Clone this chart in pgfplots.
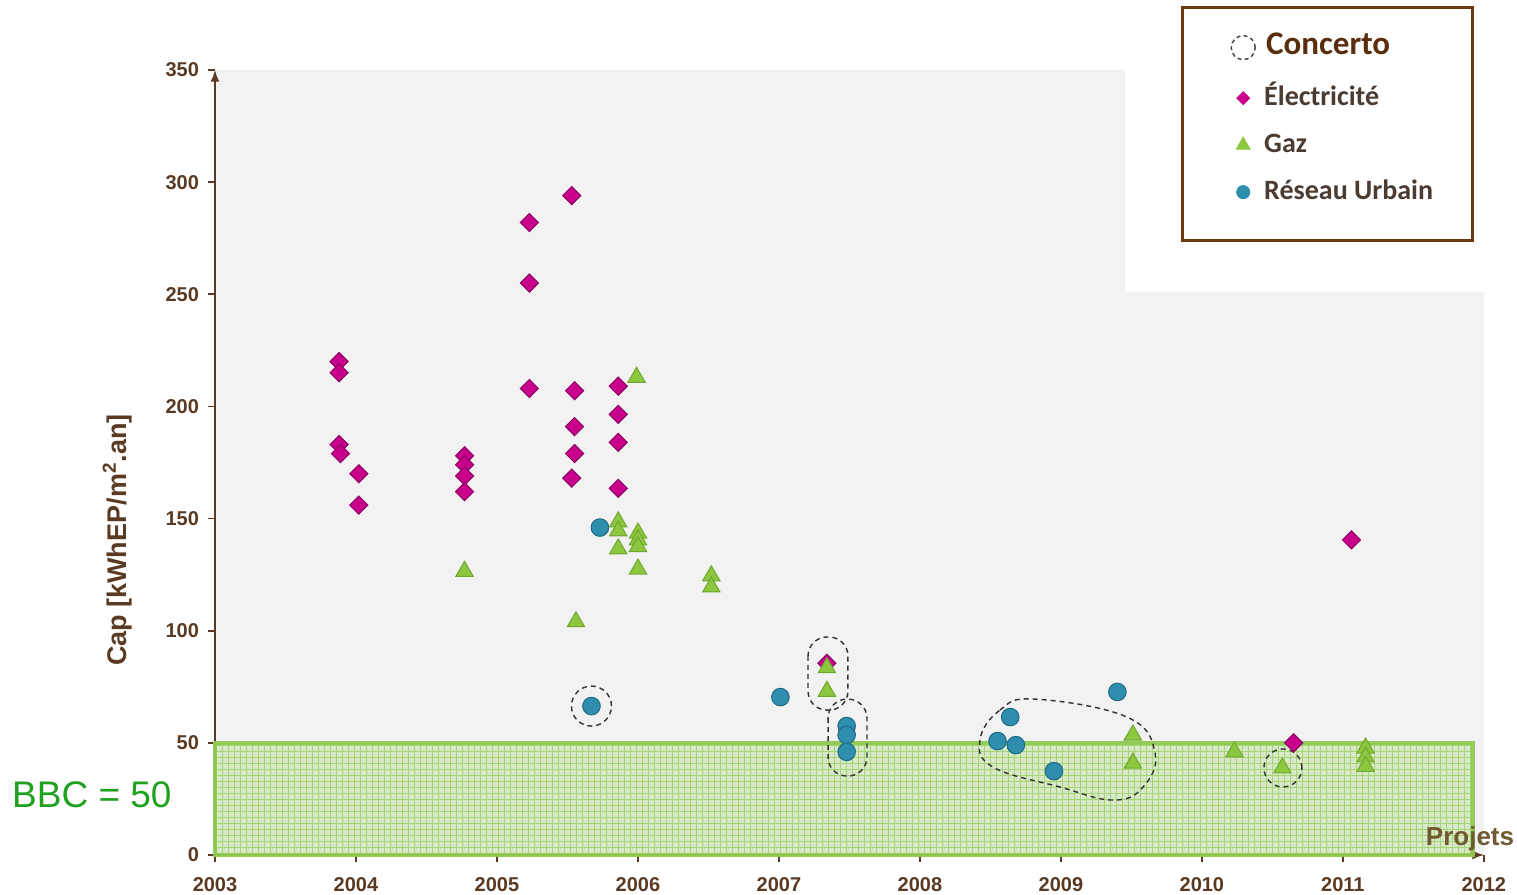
\documentclass[border=0pt]{standalone}
\usepackage{fontspec}
\setmainfont{Liberation Sans}
\newfontfamily\carlito{Carlito}
\usepackage{pgfplots}
\pgfplotsset{compat=1.18}
\usetikzlibrary{patterns}
\definecolor{brn}{HTML}{5A3A22}
\definecolor{proj}{HTML}{6F5A32}
\definecolor{elec}{HTML}{C8008C}
\definecolor{elecd}{HTML}{8A0062}
\definecolor{gaz}{HTML}{8DC63F}
\definecolor{gazd}{HTML}{6FA82E}
\definecolor{ru}{HTML}{2F8DAE}
\definecolor{rud}{HTML}{1F6B86}
\definecolor{bg}{HTML}{F2F2F2}
\definecolor{bbcline}{HTML}{8FCB52}
\definecolor{bbctext}{HTML}{1FA01F}
\definecolor{legbrn}{HTML}{6B3A0C}
\definecolor{legtxt}{HTML}{4B3B30}
\definecolor{conc}{HTML}{5A2D0C}
\begin{document}
\begin{tikzpicture}
\path[use as bounding box] (0,0) rectangle (758.5pt,447.5pt);
\begin{axis}[
  at={(107.5pt,20pt)}, anchor=south west,
  scale only axis, width=634.5pt, height=392.5pt,
  xmin=2003, xmax=2012, ymin=0, ymax=350,
  axis lines=left,
  axis line style={brn, line width=1pt, -latex},
  axis background/.style={fill=bg},
  clip=false,
  xtick={2003,...,2012}, ytick={0,50,...,350},
  tick align=outside, major tick length=3.5pt,
  tick style={brn, line width=0.8pt},
  /pgf/number format/assume math mode=true,
  /pgf/number format/1000 sep={},
  tick label style={font=\bfseries\fontsize{10}{11}\selectfont, text=brn},
  xticklabel style={yshift=-4pt},
  yticklabel style={xshift=-1pt},
  xlabel={Projets},
  ylabel={Cap [kWhEP/m\textsuperscript{2}.an]},
  every axis x label/.style={at={(axis description cs:0.989,0.021)}, anchor=center, font=\bfseries\fontsize{13}{15}\selectfont, text=proj},
  every axis y label/.style={at={(axis description cs:-0.077,0.401)}, rotate=90, anchor=center, font=\bfseries\fontsize{13.5}{15}\selectfont, text=brn},
  legend style={at={(0.8005,1.050)}, anchor=north west, draw=none, fill=none, inner sep=0pt, row sep=10.5pt, column sep=4.5pt,
     nodes={inner sep=0pt, text height=10pt, text depth=3pt},
     font=\carlito\bfseries\fontsize{14}{16}\selectfont, text=legtxt},
  legend cell align=left,
]
% white region behind the legend
\fill[white] (rel axis cs:0.7171,0.7172) rectangle (rel axis cs:1.01,1.0);
\draw[legbrn, line width=1.5pt, fill=white] (rel axis cs:0.7628,1.079) rectangle (rel axis cs:0.9913,0.7834);

% Electricite
\addplot[only marks, forget plot, mark=square*, mark size=3.2pt,
  mark options={rotate=45, fill=elec, draw=elecd, line width=0.5pt}] coordinates {
(2003.88,220) (2003.88,215) (2003.88,183) (2003.89,179) (2004.02,170) (2004.02,156)
(2004.77,178) (2004.77,174) (2004.77,169) (2004.77,162)
(2005.23,282) (2005.23,255) (2005.23,208)
(2005.53,294) (2005.55,207) (2005.55,191) (2005.55,179) (2005.53,168)
(2005.86,209) (2005.86,196.5) (2005.86,184) (2005.86,163.5)
(2007.34,85.5) (2010.65,50) (2011.06,140.5)
};
% Reseau urbain
\addplot[only marks, forget plot, mark=*, mark size=4.4pt,
  mark options={fill=ru, draw=rud, line width=0.5pt}] coordinates {
(2005.73,146) (2005.67,66.4) (2007.01,70.4)
(2007.48,57.5) (2007.48,53.5) (2007.48,46)
(2008.64,61.5) (2008.55,50.8) (2008.68,49) (2008.95,37.4) (2009.40,72.7)
};
% Gaz
\addplot[only marks, forget plot, mark=triangle*, mark size=5pt,
  mark options={fill=gaz, draw=gazd, line width=0.5pt}] coordinates {
(2004.77,126.5) (2005.56,104) (2005.99,213)
(2005.86,148.5) (2005.86,144.5) (2005.86,136.5)
(2006.0,143.5) (2006.0,140.5) (2006.0,137.5) (2006.0,127.5)
(2006.52,124.5) (2006.52,119.5)
(2007.34,83.5) (2007.34,73)
(2009.51,53.5) (2009.51,41) (2010.23,46) (2010.57,38.8)
(2011.16,47.7) (2011.16,43.7) (2011.16,39.5)
};

% BBC zone (drawn over the points, translucent)
\fill[bbcline, fill opacity=0.25] (axis cs:2003,0) rectangle (axis cs:2011.92,50);
\fill[pattern=grid, pattern color=bbcline!80, fill opacity=0.45] (axis cs:2003,0) rectangle (axis cs:2011.92,50);
\draw[bbcline, line width=2pt, draw opacity=0.95] (axis cs:2003,0) rectangle (axis cs:2011.92,50);

% Concerto dashed outlines
\begin{scope}[black!80, line width=0.7pt, dash pattern=on 2.5pt off 2pt]
\draw (axis cs:2005.67,66.4) circle[radius=10pt];
\draw[rounded corners=9.5pt] (axis cs:2007.206,97.2) rectangle (axis cs:2007.489,64.6);
\draw[rounded corners=9.5pt] (axis cs:2007.348,69.5) rectangle (axis cs:2007.624,35.2);
\draw plot[smooth cycle, tension=0.7] coordinates {
 (2008.426,51.3) (2008.567,64.6) (2008.816,69.5) (2009.468,61.5) (2009.667,45.5)
 (2009.582,30.3) (2009.369,24.5) (2008.993,30.3) (2008.518,39.2)};
\draw (axis cs:2010.574,38.8) circle[radius=9.5pt];
\end{scope}

\node[text=bbctext, font=\fontsize{18.5}{20}\selectfont] at (rel axis cs:-0.097,0.0764) {BBC = 50};

% legend
\addlegendimage{only marks, mark=o, mark size=6pt, mark options={draw=black!75, line width=0.7pt, dash pattern=on 2pt off 1.6pt}}
\addlegendentry[text=conc, font=\carlito\bfseries\fontsize{16.5}{18}\selectfont, text height=11.75pt, text depth=4.75pt, xshift=1pt]{Concerto}
\addlegendimage{only marks, mark=square*, mark size=2.3pt, mark options={rotate=45, fill=elec, draw=elec}}
\addlegendentry{Électricité}
\addlegendimage{only marks, mark=triangle*, mark size=4pt, mark options={fill=gaz, draw=gaz}}
\addlegendentry{Gaz}
\addlegendimage{only marks, mark=*, mark size=3.3pt, mark options={fill=ru, draw=ru}}
\addlegendentry{Réseau Urbain}
\end{axis}
\end{tikzpicture}
\end{document}
